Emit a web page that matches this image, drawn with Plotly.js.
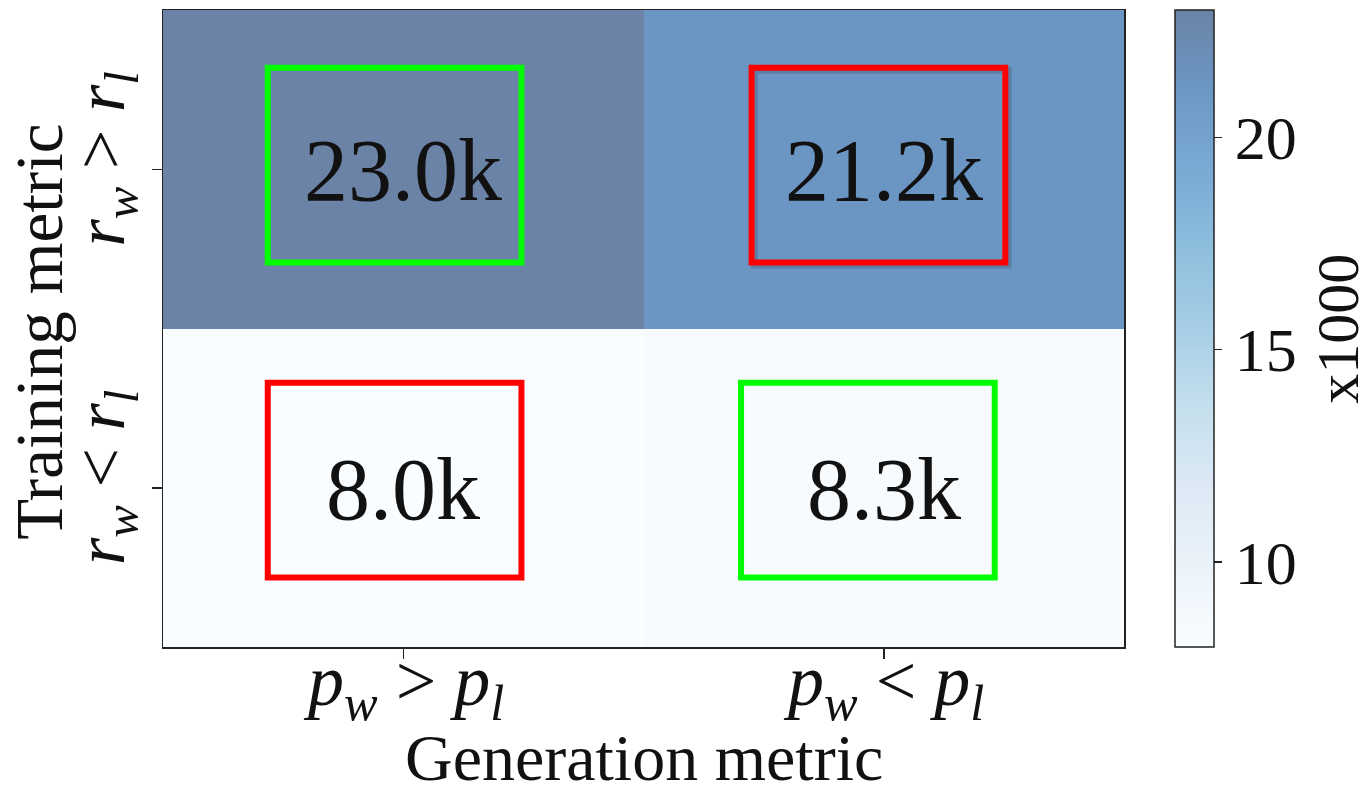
<!DOCTYPE html>
<html>
<head>
<meta charset="utf-8">
<script src="https://cdn.plot.ly/plotly-3.0.1.min.js"></script>
<style>
  html, body { margin: 0; padding: 0; background: #ffffff; }
  #chart { width: 1362px; height: 790px; }
</style>
</head>
<body>
<div id="chart"></div>
<script>
// Pair counts (thousands): rows = training metric, columns = generation metric
const genLabels = ['<i>p</i><sub><i>w</i></sub> > <i>p</i><sub><i>l</i></sub>',
                   '<i>p</i><sub><i>w</i></sub> < <i>p</i><sub><i>l</i></sub>'];
const trainLabels = ['<i>r</i><sub><i>w</i></sub> < <i>r</i><sub><i>l</i></sub>',
                     '<i>r</i><sub><i>w</i></sub> > <i>r</i><sub><i>l</i></sub>'];
const rowLow  = [8.0, 8.3];    // r_w < r_l
const rowHigh = [23.0, 21.2];  // r_w > r_l
// Agreement between the two metrics: green = agree, red = disagree
const agreeLow  = [false, true];
const agreeHigh = [true, false];
const cbTicks = [10, 15, 20];
const xTitle = 'Generation metric';
const yTitle = 'Training metric';
const cbTitle = 'x1000';

const z = [rowLow, rowHigh];
const agree = [agreeLow, agreeHigh];
const xIdx = genLabels.map((_, i) => i);
const yIdx = trainLabels.map((_, i) => i);

// Blues colormap shown at 60% opacity over white
const blues = [[0, [247,251,255]], [0.125, [222,235,247]], [0.25, [198,219,239]],
               [0.375, [158,202,225]], [0.5, [107,174,214]], [0.625, [66,146,198]],
               [0.75, [33,113,181]], [0.875, [8,81,156]], [1, [8,48,107]]];
const alpha = 0.6;
const colorscale = blues.map(([s, c]) => [s, 'rgb(' + c.map(v => Math.round(alpha * v + (1 - alpha) * 255)).join(',') + ')']);

const serif = 'Liberation Serif, Times New Roman, serif';
const ink = '#111111';
const frame = '#222222';

// Highlight frames around each cell value
const boxHalfW = 0.264, boxHalfH = 0.306;
const boxShiftX = [[-0.018, -0.033], [-0.018, -0.011]];
const boxShiftY = [[0.024, 0.024], [0.013, 0.013]];
const shapes = [];
yIdx.forEach(r => xIdx.forEach(c => {
  const cx = c + boxShiftX[r][c], cy = r + boxShiftY[r][c];
  const col = agree[r][c] ? '#00ff00' : '#ff0000';
  if (!agree[r][c] && r === 1) {
    shapes.push({type: 'rect', xref: 'x', yref: 'y',
      x0: cx - boxHalfW + 0.006, x1: cx + boxHalfW + 0.006,
      y0: cy - boxHalfH - 0.008, y1: cy + boxHalfH - 0.008,
      line: {color: 'rgba(40,40,60,0.22)', width: 7}});
  }
  shapes.push({type: 'rect', xref: 'x', yref: 'y',
    x0: cx - boxHalfW, x1: cx + boxHalfW, y0: cy - boxHalfH, y1: cy + boxHalfH,
    line: {color: col, width: 6}});
}));

const trace = {
  type: 'heatmap',
  x: xIdx, y: yIdx, z: z,
  zmin: Math.min(...rowLow, ...rowHigh), zmax: Math.max(...rowLow, ...rowHigh),
  colorscale: colorscale,
  texttemplate: '%{z:.1f}k',
  textfont: {family: serif, size: 88, color: ink},
  hoverinfo: 'skip',
  xgap: 0, ygap: 0,
  colorbar: {
    x: 1.053, xanchor: 'left', xref: 'paper', xpad: 0,
    y: 0.5, yanchor: 'middle', len: 1, lenmode: 'fraction', ypad: 0,
    thickness: 39, outlinecolor: frame, outlinewidth: 1.5,
    tickvals: cbTicks, ticks: 'outside', ticklen: 8, tickwidth: 1.5, tickcolor: frame,
    tickfont: {family: serif, size: 62, color: ink}
  }
};

// Axis titles, generation-metric tick labels and colour-bar caption as text annotations
const annotations = [
  {text: xTitle, xref: 'paper', yref: 'paper', x: 0.5, y: -0.174,
   xanchor: 'center', yanchor: 'middle', showarrow: false,
   font: {family: serif, size: 66, color: ink}},
  {text: yTitle, xref: 'paper', yref: 'paper', x: -0.129, y: 0.495, textangle: -90,
   xanchor: 'center', yanchor: 'middle', showarrow: false,
   font: {family: serif, size: 67, color: ink}},
  {text: cbTitle, xref: 'paper', yref: 'paper', x: 1.222, y: 0.5, textangle: -90,
   xanchor: 'center', yanchor: 'middle', showarrow: false,
   font: {family: serif, size: 60, color: ink}}
];
xIdx.forEach(i => annotations.push({
  text: genLabels[i], xref: 'x', yref: 'paper', x: i, y: -0.062,
  xanchor: 'center', yanchor: 'middle', showarrow: false,
  font: {family: serif, size: 72, color: ink}
}));

const layout = {
  width: 1362, height: 790,
  margin: {l: 163, r: 238, t: 10, b: 143, autoexpand: false},
  paper_bgcolor: '#ffffff', plot_bgcolor: '#ffffff',
  font: {family: serif, color: ink},
  xaxis: {
    range: [-0.5, 1.5], tickvals: xIdx, showticklabels: false,
    ticks: 'outside', ticklen: 10, tickwidth: 1.5, tickcolor: frame,
    showline: true, linecolor: frame, linewidth: 1.5, mirror: true,
    showgrid: false, zeroline: false
  },
  yaxis: {
    range: [-0.5, 1.5], tickvals: yIdx, ticktext: trainLabels, tickangle: -90,
    ticks: 'outside', ticklen: 10, tickwidth: 1.5, tickcolor: frame,
    showline: true, linecolor: frame, linewidth: 1.5, mirror: true,
    showgrid: false, zeroline: false,
    tickfont: {family: serif, size: 70, color: ink}
  },
  annotations: annotations,
  shapes: shapes
};

Plotly.newPlot('chart', [trace], layout, {displayModeBar: false, staticPlot: true});
</script>
</body>
</html>
